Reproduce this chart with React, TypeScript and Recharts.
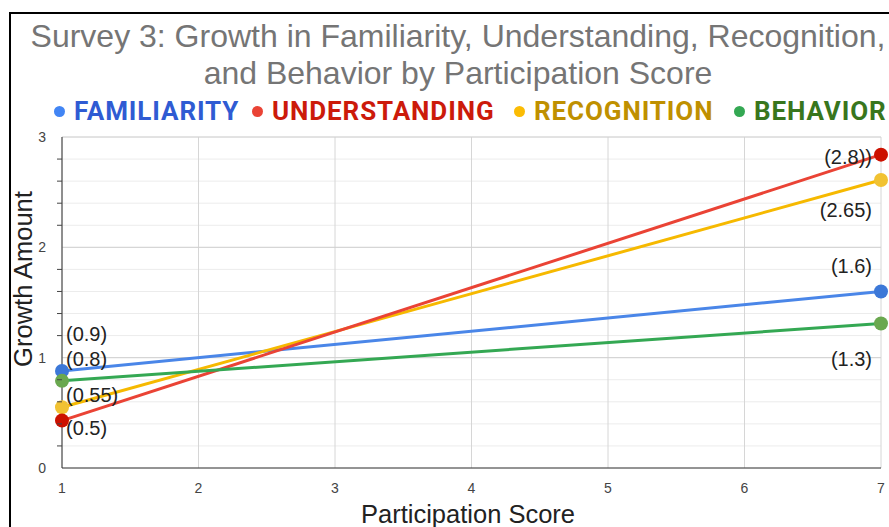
import { LineChart, Line, XAxis, YAxis, CartesianGrid, ReferenceLine, LabelList } from "recharts";

const scores = [1, 7];
const familiarity = [0.88, 1.6];
const understanding = [0.43, 2.84];
const recognition = [0.55, 2.61];
const behavior = [0.79, 1.31];

const familiarityLabels = ["(0.9)", "(1.6)"];
const understandingLabels = ["(0.5)", "(2.8))"];
const recognitionLabels = ["(0.55)", "(2.65)"];
const behaviorLabels = ["(0.8)", "(1.3)"];

const xTicks = [1, 2, 3, 4, 5, 6, 7];
const yTicks = [0, 0.2, 0.4, 0.6, 0.8, 1, 1.2, 1.4, 1.6, 1.8, 2, 2.2, 2.4, 2.6, 2.8, 3];
const yMajor = [1, 2, 3];

const data = scores.map((s, i) => ({
  score: s,
  familiarity: familiarity[i],
  understanding: understanding[i],
  recognition: recognition[i],
  behavior: behavior[i],
}));

const FONT = "'Liberation Sans', Arial, sans-serif";
const LEGEND_FONT = "Roboto, 'Liberation Sans', Arial, sans-serif";

const series = [
  { key: "familiarity", name: "FAMILIARITY", line: "#4a86e8", dot: "#3c78d8", legendDot: "#4285f4", text: "#2f5bd3", labels: familiarityLabels, dy: [-37, -25], lx: 60 },
  { key: "recognition", name: "RECOGNITION", line: "#f6b900", dot: "#f1c232", legendDot: "#fbbc04", text: "#bf9000", labels: recognitionLabels, dy: [-12, 30], lx: 520 },
  { key: "understanding", name: "UNDERSTANDING", line: "#ea4335", dot: "#cc1100", legendDot: "#ea4335", text: "#cc1a0a", labels: understandingLabels, dy: [7, 2], lx: 258 },
  { key: "behavior", name: "BEHAVIOR", line: "#34a853", dot: "#6aa84f", legendDot: "#34a853", text: "#38761d", labels: behaviorLabels, dy: [-22, 36], lx: 740 },
];

function makeLabel(labels: string[], dy: number[]) {
  return (props: any) => {
    const { x, y, index } = props;
    const right = index === labels.length - 1;
    return (
      <text
        x={right ? x - 9 : x + 4}
        y={y + dy[index]}
        textAnchor={right ? "end" : "start"}
        dominantBaseline="central"
        fontFamily={FONT}
        fontSize={20}
        fill="#222"
      >
        {labels[index]}
      </text>
    );
  };
}

const YTick = (props: any) => {
  const { x, y, payload } = props;
  const v = payload.value;
  const major = Math.abs(v - Math.round(v)) < 1e-6;
  if (major) {
    return (
      <text x={x - 16} y={y} textAnchor="end" dominantBaseline="central" fontFamily={FONT} fontSize={14} fill="#444">
        {Math.round(v)}
      </text>
    );
  }
  return <line x1={x - 5} x2={x} y1={y} y2={y} stroke="#444" strokeWidth={1} />;
};

const XTick = (props: any) => {
  const { x, y, payload } = props;
  return (
    <text x={x} y={y + 20} textAnchor="middle" dominantBaseline="central" fontFamily={FONT} fontSize={14} fill="#444">
      {payload.value}
    </text>
  );
};

export default function App() {
  return (
    <div style={{ position: "fixed", left: 0, top: 0, width: 889, height: 527, overflow: "hidden", background: "#fff" }}>
      <div style={{ position: "absolute", left: 9, top: 12, width: 920, height: 620, border: "2px solid #000", boxSizing: "border-box" }} />
      <div
        style={{
          position: "absolute", left: 10, top: 18, width: 896, textAlign: "center",
          fontFamily: FONT, fontSize: 32, lineHeight: "37px", color: "#757575", whiteSpace: "nowrap",
        }}
      >
        <div>Survey 3: Growth in Familiarity, Understanding, Recognition,</div>
        <div>and Behavior by Participation Score</div>
      </div>
      {series.map((s) => (
        <div
          key={s.key}
          style={{
            position: "absolute", left: s.lx - 6, top: 96, display: "flex", alignItems: "center",
            fontFamily: LEGEND_FONT, fontWeight: 700, fontSize: 26, lineHeight: "30px", whiteSpace: "nowrap", letterSpacing: 0.9,
          }}
        >
          <span style={{ width: 11, height: 11, borderRadius: "50%", background: s.legendDot, marginRight: 9, display: "inline-block" }} />
          <span style={{ color: s.text }}>{s.name}</span>
        </div>
      ))}
      <LineChart
        width={889}
        height={527}
        data={data}
        margin={{ top: 137, right: 8, bottom: 0, left: 0 }}
        style={{ position: "absolute", left: 0, top: 0 }}
      >
        <CartesianGrid horizontal vertical={false} stroke="#ececec" />
        <CartesianGrid horizontal={false} vertical stroke="#d6d6d6" />
        {yMajor.map((v) => (
          <ReferenceLine key={v} y={v} stroke="#d0d0d0" />
        ))}
        <XAxis
          dataKey="score"
          type="number"
          domain={[1, 7]}
          ticks={xTicks}
          height={59}
          tickSize={0}
          tickMargin={0}
          tick={<XTick />}
          axisLine={{ stroke: "#333" }}
          label={{
            content: () => (
              <text x={468} y={514} textAnchor="middle" dominantBaseline="central" fontFamily={FONT} fontSize={25.5} fill="#222">
                Participation Score
              </text>
            ),
          }}
        />
        <YAxis
          type="number"
          domain={[0, 3]}
          ticks={yTicks}
          width={62}
          tickSize={0}
          tickMargin={0}
          tick={<YTick />}
          axisLine={{ stroke: "#333" }}
          interval={0}
          label={{
            content: () => (
              <text
                x={23}
                y={279}
                transform="rotate(-90, 23, 279)"
                textAnchor="middle"
                dominantBaseline="central"
                fontFamily={FONT}
                fontSize={25.5}
                fill="#222"
              >
                Growth Amount
              </text>
            ),
          }}
        />
        {series.map((s) => (
          <Line
            key={s.key}
            dataKey={s.key}
            type="linear"
            stroke={s.line}
            strokeWidth={3}
            dot={{ r: 7, fill: s.dot, stroke: s.dot, strokeWidth: 0 }}
            activeDot={false}
            isAnimationActive={false}
          >
            <LabelList content={makeLabel(s.labels, s.dy)} />
          </Line>
        ))}
      </LineChart>
    </div>
  );
}
